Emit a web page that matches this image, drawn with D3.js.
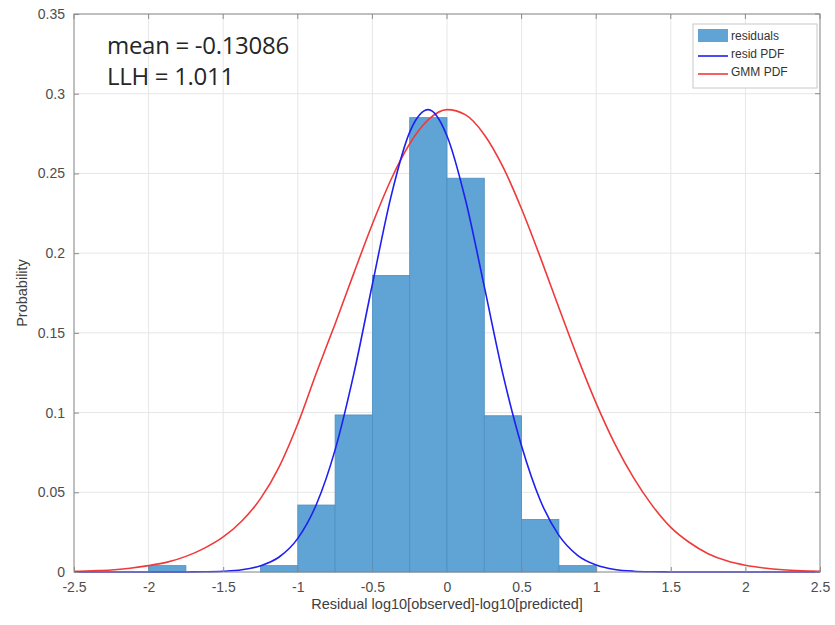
<!DOCTYPE html>
<html><head><meta charset="utf-8">
<script src="https://cdn.jsdelivr.net/npm/d3@7"></script>
<style>body{margin:0;background:#fff}svg{display:block}</style>
</head><body><svg id="c" width="835" height="625"></svg>
<script>
// Histogram bins (left edges, width 0.25) and probabilities
const binEdges = [-2.0,-1.75,-1.5,-1.25,-1.0,-0.75,-0.5,-0.25,0.0,0.25,0.5,0.75];
const binValues = [0.004,0,0,0.004,0.042,0.0985,0.186,0.285,0.247,0.098,0.033,0.004];
const binWidth = 0.25;
// Residual PDF curve
const residX = [-2.5,-2.25,-2.0,-1.75,-1.625,-1.5,-1.375,-1.25,-1.125,-1.0,-0.875,-0.75,-0.625,-0.5,-0.375,-0.25,-0.125,0,0.125,0.25,0.375,0.5,0.625,0.75,0.875,1.0,1.125,1.25,1.375,1.5,1.75,2.0,2.25,2.5];
const residY = [0,0,0.000002,0.00003,0.00013,0.00045,0.0014,0.0039,0.0094,0.0211,0.0425,0.0766,0.1241,0.1805,0.2356,0.2759,0.29,0.2735,0.2330,0.1790,0.1240,0.0790,0.0450,0.0230,0.0105,0.0044,0.0016,0.0005,0.00015,0.00004,0,0,0,0];
// GMM PDF curve
const gmmX = [-2.5,-2.375,-2.25,-2.125,-2.0,-1.875,-1.75,-1.625,-1.5,-1.375,-1.25,-1.125,-1.0,-0.875,-0.75,-0.625,-0.5,-0.375,-0.25,-0.125,0,0.125,0.25,0.375,0.5,0.625,0.75,0.875,1.0,1.125,1.25,1.375,1.5,1.625,1.75,1.875,2.0,2.125,2.25,2.375,2.5];
const gmmY = [0.0004,0.0008,0.0013,0.0024,0.0040,0.0062,0.0098,0.015,0.022,0.032,0.046,0.066,0.093,0.125,0.1556,0.1873,0.2183,0.2462,0.2686,0.2837,0.29,0.2867,0.2743,0.2541,0.2277,0.1975,0.1657,0.1346,0.1058,0.0804,0.0592,0.0418,0.028,0.0185,0.0115,0.0070,0.0042,0.0025,0.0014,0.0008,0.0005];
const xTicks = [-2.5,-2,-1.5,-1,-0.5,0,0.5,1,1.5,2,2.5];
const yTicks = [0,0.05,0.1,0.15,0.2,0.25,0.3,0.35];
const legendLabels = ["residuals","resid PDF","GMM PDF"];
const annotations = ["mean = -0.13086","LLH = 1.011"];

const svg = d3.select("#c");
const L=74, R=820, T=14, B=572;
const x = d3.scaleLinear().domain([-2.5,2.5]).range([L,R]);
const y = d3.scaleLinear().domain([0,0.35]).range([B,T]);
const font = "Liberation Sans, Arial, sans-serif";
const tickCol = "#4d4d4d";

// grid
const g = svg.append("g");
g.selectAll(".gx").data(xTicks).join("line")
  .attr("x1",d=>x(d)).attr("x2",d=>x(d)).attr("y1",T).attr("y2",B)
  .attr("stroke","#e6e6e6").attr("stroke-width",1);
g.selectAll(".gy").data(yTicks).join("line")
  .attr("y1",d=>y(d)).attr("y2",d=>y(d)).attr("x1",L).attr("x2",R)
  .attr("stroke","#e6e6e6").attr("stroke-width",1);

// bars
svg.append("g").selectAll("rect").data(binEdges.map((e,i)=>({e,v:binValues[i]})).filter(d=>d.v>0)).join("rect")
  .attr("x",d=>x(d.e)).attr("width",d=>x(d.e+binWidth)-x(d.e))
  .attr("y",d=>y(d.v)).attr("height",d=>y(0)-y(d.v))
  .attr("fill","#5fa4d4").attr("stroke","#4d8fc0").attr("stroke-width",0.8);

// curves
const line = d3.line().x(d=>x(d[0])).y(d=>y(d[1])).curve(d3.curveMonotoneX);
svg.append("path").datum(gmmX.map((v,i)=>[v,gmmY[i]])).attr("d",line)
  .attr("fill","none").attr("stroke","#f03a3a").attr("stroke-width",1.6);
svg.append("path").datum(residX.map((v,i)=>[v,residY[i]])).attr("d",line)
  .attr("fill","none").attr("stroke","#1f1ff0").attr("stroke-width",1.6);

// axes box and ticks
svg.append("rect").attr("x",L).attr("y",T).attr("width",R-L).attr("height",B-T)
  .attr("fill","none").attr("stroke","#8c8c8c").attr("stroke-width",1);
const xa = d3.axisBottom(x).tickValues(xTicks).tickSizeInner(-5).tickSizeOuter(0).tickPadding(10).tickFormat(d=>String(d));
const xg = svg.append("g").attr("transform",`translate(0,${B})`).call(xa);
const ya = d3.axisLeft(y).tickValues(yTicks).tickSizeInner(-5).tickSizeOuter(0).tickPadding(9).tickFormat(d=>String(d));
const yg = svg.append("g").attr("transform",`translate(${L},0)`).call(ya);
[xg,yg].forEach(a=>{
  a.select(".domain").remove();
  a.selectAll("line").attr("stroke","#8c8c8c");
  a.selectAll("text").attr("fill",tickCol).style("font-family",font).style("font-size","14px");
});
// top & right ticks
svg.append("g").selectAll("line").data(xTicks).join("line")
  .attr("x1",d=>x(d)).attr("x2",d=>x(d)).attr("y1",T).attr("y2",T+5).attr("stroke","#8c8c8c");
svg.append("g").selectAll("line").data(yTicks).join("line")
  .attr("y1",d=>y(d)).attr("y2",d=>y(d)).attr("x1",R).attr("x2",R-5).attr("stroke","#8c8c8c");

// axis labels
svg.append("text").attr("x",(L+R)/2).attr("y",609).attr("text-anchor","middle")
  .attr("fill","#404040").style("font-family",font).style("font-size","14.5px")
  .text("Residual log10[observed]-log10[predicted]");
svg.append("text").attr("transform",`translate(27,${(T+B)/2}) rotate(-90)`).attr("text-anchor","middle")
  .attr("fill","#404040").style("font-family",font).style("font-size","14.5px").text("Probability");

// annotations
svg.selectAll(".ann").data(annotations).join("text")
  .attr("x",107).attr("y",(d,i)=>54+i*31)
  .attr("fill","#262626").style("font-family","Open Sans, sans-serif").style("font-size","24px")
  .style("letter-spacing","-0.3px")
  .text(d=>d);

// legend
const lg = svg.append("g");
lg.append("rect").attr("x",693).attr("y",24).attr("width",124).attr("height",64)
  .attr("fill","#fff").attr("stroke","#c8c8c8").attr("stroke-width",1);
lg.append("rect").attr("x",698).attr("y",29).attr("width",30).attr("height",13).attr("fill","#5fa4d4");
lg.append("line").attr("x1",698).attr("x2",728).attr("y1",56).attr("y2",56).attr("stroke","#1f1ff0").attr("stroke-width",1.6);
lg.append("line").attr("x1",698).attr("x2",728).attr("y1",74).attr("y2",74).attr("stroke","#f03a3a").attr("stroke-width",1.6);
lg.selectAll("text").data(legendLabels).join("text")
  .attr("x",731).attr("y",(d,i)=>40+i*18)
  .attr("fill","#333").style("font-family",font).style("font-size","12px").text(d=>d);
</script></body></html>
